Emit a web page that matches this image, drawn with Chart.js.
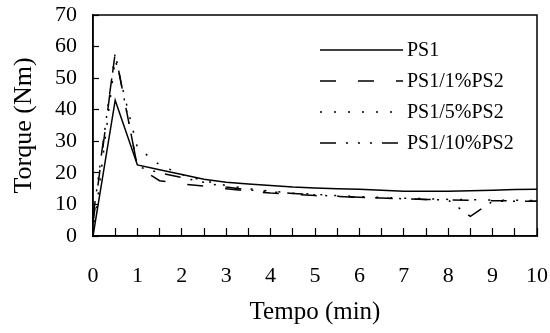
<!DOCTYPE html>
<html>
<head>
<meta charset="utf-8">
<script src="https://cdn.jsdelivr.net/npm/chart.js@4"></script>
<style>
  body { margin: 0; background: #fff; }
  #wrap { width: 550px; height: 333px; }
</style>
</head>
<body>
<div id="wrap"><canvas id="torqueChart"></canvas></div>
<script>
// time axis (min) and torque readings (Nm)
const tempo = [0, 0.5, 1, 1.5, 2, 2.5, 3, 3.5, 4, 4.5, 5, 5.5, 6, 6.5, 7, 7.5, 8, 8.5, 9, 9.5, 10];
const ps1 = [0, 43, 22.5, 21, 19.5, 18, 17, 16.5, 16, 15.5, 15.2, 15, 14.8, 14.5, 14.2, 14.2, 14.2, 14.3, 14.5, 14.7, 14.8];
const ps1_1 = [4, 58, 22, 17.5, 16.5, 15.8, 15, 14.2, 13.6, 13.2, 12.8, 12.5, 12.2, 12, 11.8, 11.6, 11.4, 11.3, 11.2, 11.1, 11];
const ps1_5 = [0, 56, 28, 22.5, 19.5, 17.5, 16, 15, 14.2, 13.6, 13.2, 12.8, 12.5, 12.2, 12, 11.8, 11.6, 11.5, 11.4, 11.3, 11.2];
const ps1_10 = [6, 58, 22, 20, 18.5, 17, 15.5, 14.6, 14, 13.5, 13, 12.6, 12.3, 12, 11.8, 11.6, 11.4, 6.2, 11, 11, 11];

const seriesNames = ['PS1', 'PS1/1%PS2', 'PS1/5%PS2', 'PS1/10%PS2'];
const yTicks = [0, 10, 20, 30, 40, 50, 60, 70];

const serif = 'Liberation Serif';

function points(values) {
  return tempo.map((t, i) => ({ x: t, y: values[i] }));
}

// box around the plot area
const frame = {
  id: 'frame',
  afterDraw(chart) {
    const a = chart.chartArea;
    const ctx = chart.ctx;
    ctx.save();
    ctx.strokeStyle = '#000';
    ctx.lineWidth = 1.5;
    ctx.strokeRect(a.left, a.top, a.right - a.left, a.bottom - a.top);
    ctx.restore();
  }
};

// legend drawn inside the plot, upper right
const insideLegend = {
  id: 'insideLegend',
  afterDraw(chart) {
    const a = chart.chartArea;
    const ctx = chart.ctx;
    ctx.save();
    ctx.font = '20px "' + serif + '"';
    ctx.fillStyle = '#000';
    ctx.textBaseline = 'middle';
    chart.data.datasets.forEach((ds, i) => {
      const y = a.top + 35 + i * 31;
      const x0 = a.right - 217;
      const x1 = a.right - 134;
      ctx.strokeStyle = '#000';
      ctx.lineWidth = ds.borderWidth;
      ctx.setLineDash(ds.borderDash || []);
      ctx.beginPath();
      ctx.moveTo(x0, y);
      ctx.lineTo(x1, y);
      ctx.stroke();
      ctx.setLineDash([]);
      ctx.fillText(ds.label, a.right - 130, y + 1);
    });
    ctx.restore();
  }
};

const ctx = document.getElementById('torqueChart').getContext('2d');
new Chart(ctx, {
  type: 'line',
  data: {
    datasets: [
      { label: seriesNames[0], data: points(ps1), borderColor: '#000', borderWidth: 1.5, borderDash: [] },
      { label: seriesNames[1], data: points(ps1_1), borderColor: '#000', borderWidth: 1.5, borderDash: [16, 22] },
      { label: seriesNames[2], data: points(ps1_5), borderColor: '#000', borderWidth: 1.5, borderDash: [2, 12] },
      { label: seriesNames[3], data: points(ps1_10), borderColor: '#000', borderWidth: 1.5, borderDash: [16, 10, 2, 10, 2, 10, 2, 10] }
    ]
  },
  options: {
    responsive: true,
    maintainAspectRatio: false,
    animation: false,
    layout: { padding: { top: 15, right: 13, left: 6, bottom: 4 } },
    elements: { point: { radius: 0 }, line: { tension: 0 } },
    plugins: {
      legend: { display: false },
      tooltip: { enabled: false }
    },
    scales: {
      x: {
        type: 'linear',
        min: 0,
        max: 10,
        // fixed axis height, and drop the extra side padding chart.js adds from ticks.padding
        afterFit: scale => { scale.height = 93; scale.paddingLeft = 0; scale.paddingRight = 0; },
        border: { display: true, color: '#000', width: 1.5 },
        grid: { drawOnChartArea: false, drawTicks: true, tickLength: -8, tickColor: '#000', tickWidth: 1.2 },
        ticks: {
          stepSize: 0.5,
          autoSkip: false,
          maxRotation: 0,
          padding: 35,
          color: '#000',
          font: { family: serif, size: 22 },
          callback: v => Number.isInteger(v) ? v : ''
        },
        title: {
          display: true,
          text: 'Tempo (min)',
          color: '#000',
          font: { family: serif, size: 25 },
          padding: { top: 9, bottom: 2 }
        }
      },
      y: {
        min: 0,
        max: 70,
        afterFit: scale => { scale.width = 87; scale.paddingTop = 0; scale.paddingBottom = 0; },
        border: { display: true, color: '#000', width: 1.5 },
        grid: { drawOnChartArea: false, drawTicks: true, tickLength: -6, tickColor: '#000', tickWidth: 1.2 },
        afterBuildTicks: scale => { scale.ticks = yTicks.map(v => ({ value: v })); },
        ticks: {
          autoSkip: false,
          padding: 22,
          color: '#000',
          font: { family: serif, size: 22 }
        },
        title: {
          display: true,
          text: 'Torque (Nm)',
          color: '#000',
          font: { family: serif, size: 26 },
          padding: { top: 3, bottom: 16 }
        }
      }
    }
  },
  plugins: [frame, insideLegend]
});
</script>
</body>
</html>
